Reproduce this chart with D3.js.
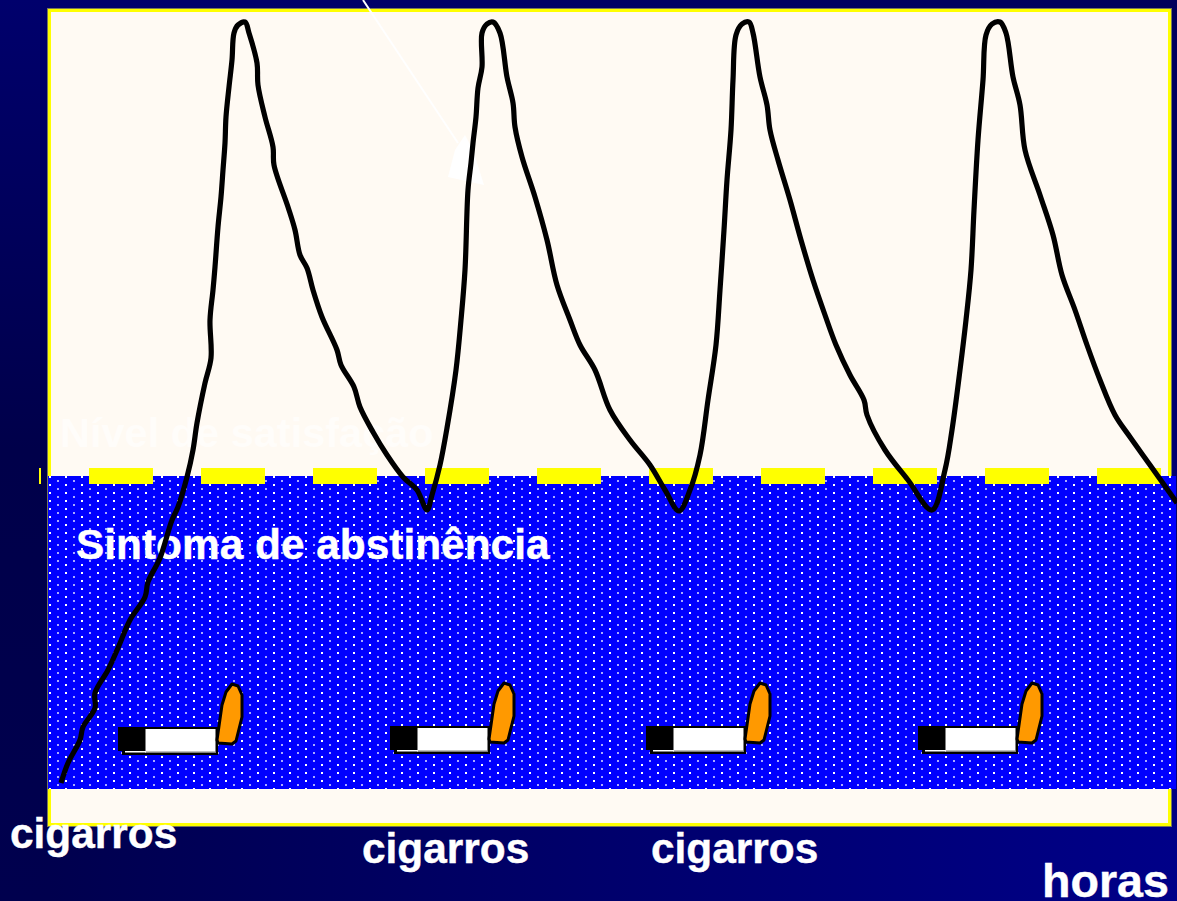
<!DOCTYPE html>
<html>
<head>
<meta charset="utf-8">
<script src="https://cdnjs.cloudflare.com/ajax/libs/d3/7.8.5/d3.min.js"></script>
<style>
  html, body { margin: 0; padding: 0; background: #000060; overflow: hidden; }
  text { font-family: "Liberation Sans", Arial, sans-serif; font-weight: bold; }
</style>
</head>
<body>
<div id="chart"></div>
<script>
// time on x, level on y (0 = the dashed threshold line)
var curveTime = [13,20,32,35,47,47,60,70,82,97,100,112,124,130,139,145,149,157,163,162,165,167,170,173,175,177,178,181,184,186,190,197,201,209,210,217,225,226,240,247,252,259,265,274,289,293,306,312,325,339,355,369,379,
  384,392,399,408,413,417,420,423,425,428,430,434,434,439,445,452,459,465,467,474,487,499,509,522,532,547,562,582,602,617,631,
  642,652,660,668,672,676,679,683,685,688,694,701,705,712,719,722,730,742,753,765,777,788,802,816,819,837,860,884,
  897,904,912,918,923,926,930,935,938,944,952,958,965,972,977,992,1005,1014,1027,1039,1052,1067,1082,1102,1129];
var curveLevel = [-307,-287,-264,-251,-232,-217,-194,-172,-144,-121,-106,-82,-44,-31,-1,26,53,93,118,156,186,209,249,279,306,333,359,389,416,443,451,454,443,413,391,359,329,311,269,246,221,208,186,159,126,111,89,69,44,21,-1,-14,-34,
  -19,11,48,106,156,206,286,313,333,359,388,409,443,452,454,443,399,373,349,319,279,236,191,156,131,106,66,36,11,-14,-35,
  -14,21,76,131,186,246,296,346,396,441,452,454,443,399,371,346,316,276,236,196,161,131,101,76,61,26,-4,-34,
  6,46,106,156,206,266,336,396,441,452,454,443,399,371,326,281,241,201,166,131,96,61,39,11,-27];

var cigaretteTime = [70,342,598,870];
var cigaretteLevel = [-251,-250,-250,-250];

var dashSpan = [-9,1129];
var dashLevel = [0];

var pointerTime = [315,410];
var pointerLevel = [476,333];
var pointerHeadTime = [417,407,400,436,425];
var pointerHeadLevel = [341,326,299,291,326];

var levelLabels = ["Nível de satisfação","Sintoma de abstinência"];
var cigaretteLabels = ["cigarros","cigarros","cigarros"];
var timeLabel = "horas";

var width = 1177, height = 901;

var x = d3.scaleLinear().domain([0,1122]).range([48,1170]);
var y = d3.scaleLinear().domain([-313,466]).range([789,10]);

var svg = d3.select("#chart").append("svg")
    .attr("width", width)
    .attr("height", height)
    .style("display", "block");

var defs = svg.append("defs");

function gradient(id, x2, y2, stops) {
  var g = defs.append("linearGradient").attr("id", id)
      .attr("x1", 0).attr("y1", 0).attr("x2", x2).attr("y2", y2);
  stops.forEach(function(s) {
    g.append("stop").attr("offset", s[0]).attr("stop-color", s[1]);
  });
}
gradient("bgLeft", 0, 1, [[0,"#00006c"],[0.5,"#00004a"],[1,"#00004e"]]);
gradient("bgTop", 1, 0, [[0,"#00006c"],[0.5,"#000064"],[1,"#00005a"]]);
gradient("bgRight", 0, 1, [[0,"#00005a"],[0.5,"#000070"],[1,"#000086"]]);
gradient("bgBottom", 1, 0, [[0,"#00004e"],[0.5,"#00006c"],[1,"#000088"]]);

var dots = defs.append("pattern").attr("id", "dots")
    .attr("patternUnits", "userSpaceOnUse")
    .attr("width", 16).attr("height", 8);
dots.append("rect").attr("width", 16).attr("height", 8).attr("fill", "#0000ff");
dots.append("rect").attr("x", 1).attr("y", 4).attr("width", 2).attr("height", 2).attr("fill", "#ffffff");
dots.append("rect").attr("x", 9).attr("y", 0).attr("width", 2).attr("height", 2).attr("fill", "#a9a9ff");

// background, only the strips round the panel show
svg.append("rect").attr("width", 48).attr("height", height).attr("fill", "url(#bgLeft)");
svg.append("rect").attr("x", 48).attr("width", width - 48).attr("height", 10).attr("fill", "url(#bgTop)");
svg.append("rect").attr("x", 1170).attr("width", 7).attr("height", height).attr("fill", "url(#bgRight)");
svg.append("rect").attr("x", 48).attr("y", 826).attr("width", width - 48).attr("height", 75).attr("fill", "url(#bgBottom)");

// panel
svg.append("rect")
    .attr("x", 47.5).attr("y", 8.5).attr("width", 1124).attr("height", 818)
    .attr("fill", "none").attr("stroke", "#77775a").attr("stroke-width", 1);
svg.append("rect")
    .attr("x", 49.5).attr("y", 10.5).attr("width", 1120).attr("height", 814)
    .attr("fill", "#fffaf3").attr("stroke", "#ffff00").attr("stroke-width", 3);

// dotted band
svg.append("rect")
    .attr("x", x(0)).attr("y", y(0))
    .attr("width", width - 1 - x(0)).attr("height", y(-313) - y(0))
    .attr("fill", "url(#dots)");

// threshold dashes
svg.append("line")
    .attr("x1", x(dashSpan[0])).attr("x2", x(dashSpan[1]))
    .attr("y1", y(dashLevel[0])).attr("y2", y(dashLevel[0]))
    .attr("stroke", "#ffff00")
    .attr("stroke-width", 16)
    .attr("stroke-dasharray", "64 48")
    .attr("stroke-dashoffset", 62);

// pointer left over from the slide, almost invisible on the panel
svg.append("polygon")
    .attr("points", pointerHeadTime.map(function(t, i) { return x(t) + "," + y(pointerHeadLevel[i]); }).join(" "))
    .attr("fill", "#ffffff");
svg.append("line")
    .attr("x1", x(pointerTime[0])).attr("y1", y(pointerLevel[0]))
    .attr("x2", x(pointerTime[1])).attr("y2", y(pointerLevel[1]))
    .attr("stroke", "#ffffff").attr("stroke-width", 2);

svg.append("text").attr("x", 60).attr("y", 447)
    .attr("font-size", 41.5).attr("fill", "#fffdfa").text(levelLabels[0]);
svg.append("text").attr("x", 76).attr("y", 559)
    .attr("font-size", 42.4).attr("fill", "#ffffff").attr("stroke", "#ffffff").attr("stroke-width", 0.4).text(levelLabels[1]);

// craving curve
var line = d3.line()
    .x(function(d) { return x(d[0]); })
    .y(function(d) { return y(d[1]); })
    .curve(d3.curveCatmullRom.alpha(0.5));

svg.append("path")
    .datum(d3.zip(curveTime, curveLevel))
    .attr("d", line)
    .attr("fill", "none")
    .attr("stroke", "#000000")
    .attr("stroke-width", 5.2)
    .attr("stroke-linejoin", "round");

// cigarettes
var butt = svg.selectAll("g.cigarette")
    .data(d3.zip(cigaretteTime, cigaretteLevel))
    .enter().append("g")
    .attr("class", "cigarette")
    .attr("transform", function(d) { return "translate(" + x(d[0]) + "," + y(d[1]) + ")"; });

butt.append("rect").attr("x", 4).attr("width", 96).attr("height", 28).attr("fill", "#000000");
butt.append("rect").attr("x", 27).attr("y", 2).attr("width", 71).attr("height", 24).attr("fill", "#808080");
butt.append("rect").attr("x", 28).attr("y", 2).attr("width", 69).attr("height", 22.5).attr("fill", "#ffffff");
butt.append("rect").attr("x", 7).attr("y", 24).attr("width", 21).attr("height", 1.5).attr("fill", "#ffffff");
butt.append("rect").attr("width", 27).attr("height", 24).attr("fill", "#000000");
butt.append("path")
    .attr("d", "M99,13 L104,-22 L108,-35 L114,-43 L120,-41 L124,-32 L124,-10 L118,14 L114,17 L100,16 Z")
    .attr("fill", "#ff9900")
    .attr("stroke", "#000000")
    .attr("stroke-width", 3)
    .attr("stroke-linejoin", "round");

// labels under the panel
svg.append("text").attr("x", 10).attr("y", 848)
    .attr("font-size", 42.4).attr("fill", "#ffffff").attr("stroke", "#ffffff").attr("stroke-width", 0.4).text(cigaretteLabels[0]);
svg.append("text").attr("x", 362).attr("y", 863)
    .attr("font-size", 42.4).attr("fill", "#ffffff").attr("stroke", "#ffffff").attr("stroke-width", 0.4).text(cigaretteLabels[1]);
svg.append("text").attr("x", 651).attr("y", 863)
    .attr("font-size", 42.4).attr("fill", "#ffffff").attr("stroke", "#ffffff").attr("stroke-width", 0.4).text(cigaretteLabels[2]);
svg.append("text").attr("x", 1042).attr("y", 897)
    .attr("font-size", 46.6).attr("fill", "#ffffff").attr("stroke", "#ffffff").attr("stroke-width", 0.4).text(timeLabel);
</script>
</body>
</html>
